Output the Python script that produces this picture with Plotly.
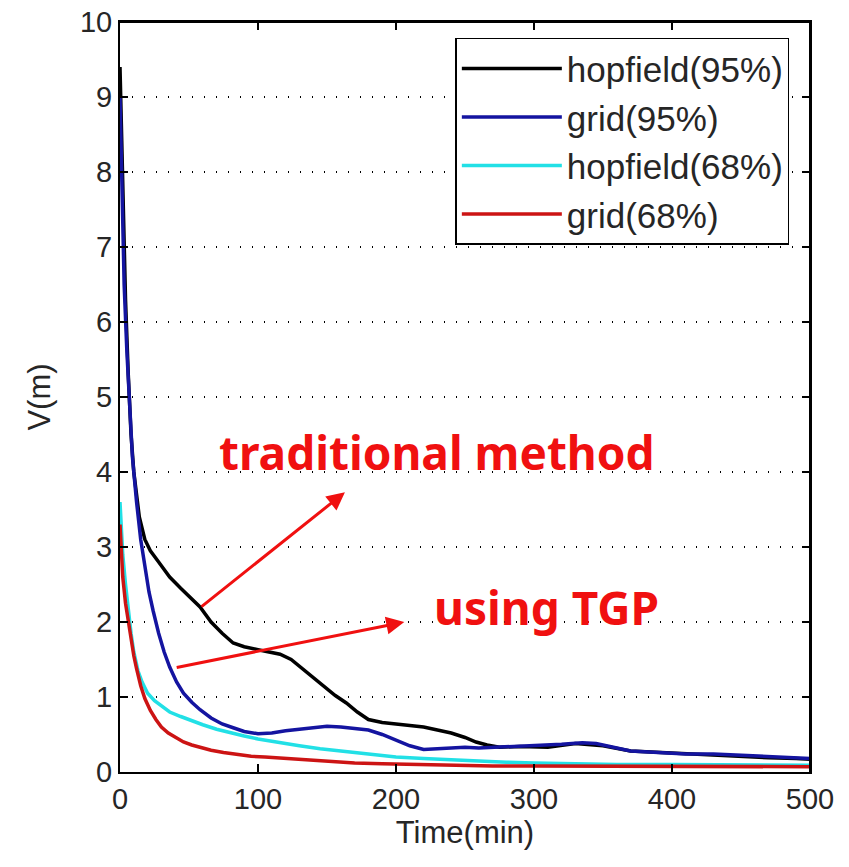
import plotly.graph_objects as go

# ---- data ----
t_hop95 = [0, 1, 2, 4, 6, 8, 10, 14, 18, 22, 28, 36, 44, 52, 58, 66, 74, 82, 90, 100,
           108, 116, 124, 132, 140, 148, 156, 164, 172, 180, 190, 200, 210, 220, 230, 240,
           250, 258, 266, 275, 290, 310, 330, 350, 370, 390, 410, 430, 450, 470, 490, 500]
v_hop95 = [9.4, 8.6, 7.6, 6.3, 5.3, 4.5, 4.0, 3.4, 3.1, 2.95, 2.8, 2.6, 2.45, 2.3, 2.2, 2.0, 1.85, 1.72, 1.67, 1.63,
           1.6, 1.57, 1.5, 1.38, 1.27, 1.15, 1.02, 0.92, 0.8, 0.7, 0.66, 0.64, 0.62, 0.6, 0.56, 0.52,
           0.46, 0.4, 0.36, 0.33, 0.34, 0.33, 0.38, 0.35, 0.28, 0.26, 0.24, 0.22, 0.2, 0.19, 0.18, 0.17]

t_grid95 = [0, 1, 2, 3, 5, 7, 9, 12, 15, 18, 21, 24, 28, 32, 36, 41, 46, 52, 58, 66, 74, 82, 90,
            100, 110, 120, 130, 140, 150, 160, 170, 180, 190, 200, 210, 220, 230, 240, 250, 260,
            275, 290, 305, 320, 335, 345, 355, 370, 390, 410, 430, 450, 470, 490, 500]
v_grid95 = [9.0, 8.3, 7.3, 6.5, 5.6, 4.9, 4.2, 3.6, 3.1, 2.75, 2.4, 2.15, 1.85, 1.6, 1.4, 1.2, 1.05, 0.93, 0.83, 0.72, 0.64, 0.59, 0.54,
            0.51, 0.52, 0.55, 0.57, 0.58, 0.61, 0.6, 0.58, 0.56, 0.5, 0.42, 0.35, 0.3, 0.31, 0.32, 0.33, 0.32,
            0.33, 0.34, 0.36, 0.37, 0.39, 0.38, 0.34, 0.28, 0.26, 0.24, 0.24, 0.22, 0.2, 0.18, 0.18]

t_hop68 = [0, 1, 2, 4, 6, 8, 10, 13, 16, 20, 25, 30, 36, 44, 52, 60, 70, 80, 90, 100, 115, 130,
           145, 160, 180, 200, 220, 240, 260, 280, 300, 330, 360, 400, 450, 500]
v_hop68 = [3.6, 3.3, 2.9, 2.5, 2.15, 1.85, 1.6, 1.35, 1.2, 1.05, 0.95, 0.88, 0.8, 0.74, 0.68, 0.63, 0.57, 0.52, 0.48, 0.44, 0.39, 0.35,
           0.31, 0.28, 0.24, 0.2, 0.18, 0.16, 0.15, 0.13, 0.12, 0.11, 0.1, 0.1, 0.09, 0.09]

t_grid68 = [0, 1, 2, 4, 6, 8, 10, 12, 15, 18, 22, 26, 30, 35, 40, 46, 52, 58, 66, 75, 85, 95, 105,
            120, 135, 150, 170, 190, 210, 240, 270, 300, 350, 400, 450, 500]
v_grid68 = [3.3, 2.9, 2.6, 2.25, 2.0, 1.75, 1.55, 1.38, 1.15, 0.98, 0.82, 0.7, 0.6, 0.52, 0.46, 0.4, 0.36, 0.33, 0.29, 0.26, 0.23, 0.21, 0.2,
            0.18, 0.16, 0.14, 0.12, 0.11, 0.1, 0.09, 0.08, 0.08, 0.08, 0.07, 0.07, 0.07]

series_names = ["hopfield(95%)", "grid(95%)", "hopfield(68%)", "grid(68%)"]
series_colors = ["#000000", "#1414a0", "#22e0e6", "#cc1414"]

x_ticks = [0, 100, 200, 300, 400, 500]
y_ticks = [0, 1, 2, 3, 4, 5, 6, 7, 8, 9, 10]
x_range = [0, 500]
y_range = [0, 10]

FONT = "Liberation Sans, Arial, sans-serif"
TXT = "#262626"

fig = go.Figure()
order = [(t_hop95, v_hop95, 0), (t_grid95, v_grid95, 1), (t_hop68, v_hop68, 2), (t_grid68, v_grid68, 3)]
for tx, vy, i in order:
    fig.add_trace(go.Scatter(x=tx, y=vy, mode="lines", name=series_names[i],
                             line=dict(color=series_colors[i], width=3.5)))

axis_common = dict(showline=True, linecolor="black", linewidth=2, mirror="allticks",
                   ticks="inside", ticklen=8, tickcolor="black", tickwidth=2,
                   tickfont=dict(family=FONT, size=29, color=TXT),
                   zeroline=False)

fig.update_xaxes(range=x_range, tickvals=x_ticks, showgrid=False,
                 title=dict(text="Time(min)", font=dict(family=FONT, size=31, color=TXT), standoff=8),
                 **axis_common)
fig.update_yaxes(range=y_range, tickvals=y_ticks, showgrid=True, gridcolor="black",
                 griddash="1px,11px", gridwidth=1.5,
                 title=dict(text="V(m)", font=dict(family=FONT, size=31, color=TXT), standoff=20),
                 **axis_common)

fig.update_layout(
    width=849, height=867,
    margin=dict(l=120, r=39, t=22, b=95, autoexpand=False),
    plot_bgcolor="white", paper_bgcolor="white",
    font=dict(family=FONT, size=29, color=TXT),
    legend=dict(x=0.486, y=0.979, xanchor="left", yanchor="top",
                bgcolor="white", bordercolor="black", borderwidth=1.5,
                font=dict(family=FONT, size=35, color=TXT),
                tracegroupgap=0, itemwidth=100),
    showlegend=True,
)

# explicit top and right frame edges, in axis-domain coordinates
fig.add_shape(type="line", xref="x domain", yref="y domain", x0=0, y0=1, x1=1, y1=1,
              line=dict(color="black", width=2), layer="above")
fig.add_shape(type="line", xref="x domain", yref="y domain", x0=1, y0=0, x1=1, y1=1,
              line=dict(color="black", width=2), layer="above")

RED = "#f01010"
ANN_FONT = "Noto Sans, Open Sans, sans-serif"
fig.add_annotation(x=163, y=3.73, ax=58, ay=2.19, xref="x", yref="y", axref="x", ayref="y",
                   text="", showarrow=True, arrowhead=2, arrowsize=1.2, arrowwidth=3, arrowcolor=RED)
fig.add_annotation(x=206, y=2.0, ax=40, ay=1.39, xref="x", yref="y", axref="x", ayref="y",
                   text="", showarrow=True, arrowhead=2, arrowsize=1.2, arrowwidth=3, arrowcolor=RED)
fig.add_annotation(x=230, y=4.27, xref="x", yref="y", text="<b>traditional method</b>", showarrow=False,
                   font=dict(family=ANN_FONT, size=46, color=RED))
fig.add_annotation(x=309, y=2.2, xref="x", yref="y", text="<b>using TGP</b>", showarrow=False,
                   font=dict(family=ANN_FONT, size=46, color=RED))

fig.write_html("out.html", config={"displayModeBar": False},
               post_script="document.body.style.margin='0';document.body.style.overflow='hidden';")
